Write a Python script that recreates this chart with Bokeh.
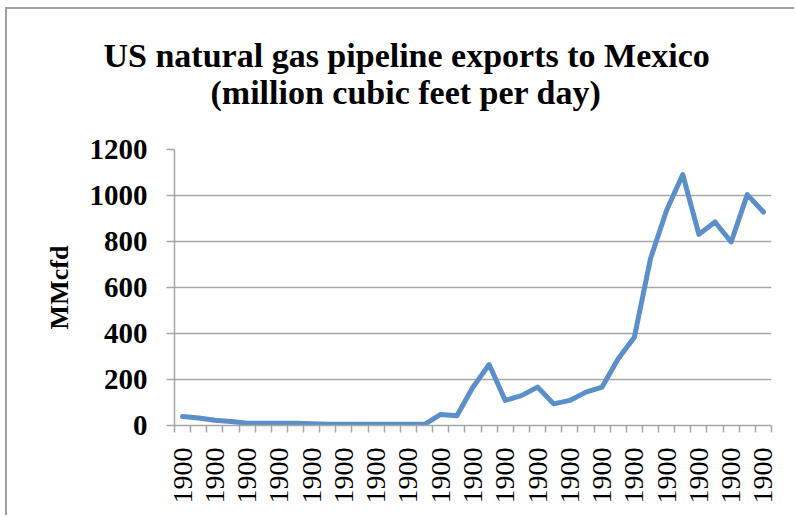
import math
from bokeh.plotting import figure
from bokeh.models import FixedTicker, CustomJSTickFormatter, Range1d, ColumnDataSource, Title
from bokeh.embed import file_html
from bokeh.resources import INLINE

# ---- data ----
categories = [f"c{i}" for i in range(37)]
x_labels = ["1900"] * 37
exports_mmcfd = [39, 33, 23, 17, 10, 10, 10, 10, 8, 5,
                 5, 5, 5, 5, 5, 5, 48, 42, 167, 265,
                 109, 130, 167, 94, 109, 145, 167, 290, 384, 725,
                 936, 1091, 831, 885, 798, 1004, 928]
y_ticks = [0, 200, 400, 600, 800, 1000, 1200]
title_lines = ["US natural gas pipeline exports to Mexico", "(million cubic feet per day)"]
y_axis_title = "MMcfd"

n = len(exports_mmcfd)
xpos = [i + 0.5 for i in range(n)]
src = ColumnDataSource(dict(x=xpos, y=exports_mmcfd, cat=categories))

SERIF = "Liberation Serif"
GRID = "#a6a6a6"

OX, OY = 7, 9            # canvas origin on the page (after margin + border)
W, H = 796 - OX, 517 - OY
FL = 174 - OX            # frame left in canvas px
FT = 149 - OY            # frame top
FB = 425 - OY            # frame bottom
FR = 771 - OX            # frame right

p = figure(width=W, height=H, output_backend="svg", toolbar_location=None,
           x_range=Range1d(0, n), y_range=Range1d(0, 1200),
           min_border_left=FL, min_border_right=W - FR, min_border_top=FT, min_border_bottom=H - FB)
p.styles = {"margin-left": "5px", "margin-top": "7px",
            "border-left": "2px solid #a0a0a0", "border-top": "2px solid #a0a0a0"}
p.outline_line_color = None
p.background_fill_color = "white"
p.border_fill_color = "white"

p.line("x", "y", source=src, line_color="#5b8fc9", line_width=5, line_join="round", line_cap="round")

# grid
p.xgrid.grid_line_color = None
p.ygrid.ticker = FixedTicker(ticks=y_ticks)
p.ygrid.grid_line_color = GRID
p.ygrid.grid_line_width = 1.5

# x axis
xa = p.xaxis[0]
xa.ticker = FixedTicker(ticks=[i + 0.5 for i in range(0, n, 2)], minor_ticks=list(range(0, n + 1)))
xa.formatter = CustomJSTickFormatter(args=dict(labels=x_labels), code="return labels[Math.floor(tick)];")
xa.major_tick_in = 0
xa.major_tick_out = 0
xa.minor_tick_in = 0
xa.minor_tick_out = 7
xa.minor_tick_line_color = GRID
xa.minor_tick_line_width = 1.5
xa.axis_line_color = GRID
xa.axis_line_width = 1.5
xa.major_label_orientation = math.pi / 2
xa.major_label_standoff = 15
xa.major_label_text_font = SERIF
xa.major_label_text_font_size = "28px"
xa.major_label_text_color = "black"

# y axis
ya = p.yaxis[0]
ya.ticker = FixedTicker(ticks=y_ticks)
ya.major_tick_in = 0
ya.major_tick_out = 8
ya.minor_tick_out = 0
ya.minor_tick_in = 0
ya.major_tick_line_color = GRID
ya.major_tick_line_width = 1.5
ya.axis_line_color = GRID
ya.axis_line_width = 1.5
ya.major_label_standoff = 19
ya.major_label_text_font = SERIF
ya.major_label_text_font_style = "bold"
ya.major_label_text_font_size = "29px"
ya.major_label_text_color = "black"
ya.axis_label = y_axis_title
ya.axis_label_text_font = SERIF
ya.axis_label_text_font_style = "bold"
ya.axis_label_text_font_size = "26px"
ya.axis_label_text_color = "black"
ya.axis_label_standoff = 13

# two-line title; a blank spacer panel keeps it clear of the plot frame
spacer = Title(text=" ", standoff=26, text_font=SERIF, text_font_size="10px")
t2 = Title(text=title_lines[1], align="left", offset=36, standoff=0, text_font=SERIF,
           text_font_style="bold", text_font_size="34px", text_color="black")
t1 = Title(text=title_lines[0], align="left", offset=-71, standoff=-4, text_font=SERIF,
           text_font_style="bold", text_font_size="34px", text_color="black")
p.add_layout(spacer, "above")
p.add_layout(t2, "above")
p.add_layout(t1, "above")

open("out.html", "w").write(file_html(p, INLINE))
